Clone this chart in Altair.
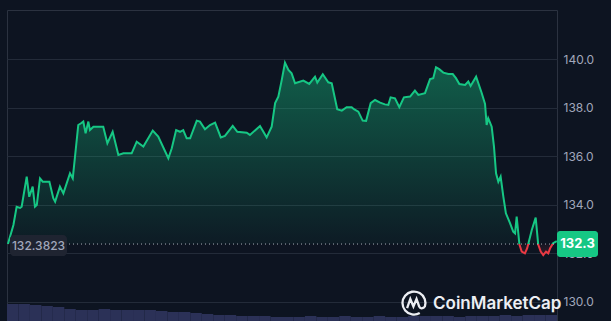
import altair as alt
import pandas as pd

# ---- price series (hours since open, price) ----
hours = [0.04, 0.28, 0.42, 0.57, 0.64, 0.86, 0.97, 1.12, 1.22, 1.30,
         1.44, 1.56, 1.85, 2.02, 2.10, 2.31, 2.46, 2.75, 2.87, 3.11,
         3.23, 3.33, 3.43, 3.55, 3.62, 3.77, 4.20, 4.38, 4.61, 4.86,
         5.08, 5.44, 5.66, 5.95, 6.36, 6.60, 7.04, 7.19, 7.38, 7.55,
         7.69, 7.84, 7.99, 8.28, 8.42, 8.64, 8.86, 9.08, 9.33, 9.51,
         9.85, 10.05, 10.46, 10.60, 11.04, 11.33, 11.55, 11.70, 11.84, 11.99,
         12.13, 12.28, 12.42, 12.57, 12.93, 13.19, 13.44, 13.54, 13.78, 14.02,
         14.17, 14.41, 14.61, 14.82, 15.04, 15.14, 15.33, 15.52, 15.67, 15.87,
         16.06, 16.28, 16.49, 16.64, 16.74, 16.93, 17.12, 17.32, 17.59, 17.80,
         17.95, 18.24, 18.46, 18.60, 18.72, 18.86, 19.04, 19.26, 19.45, 19.59,
         19.74, 19.99, 20.13, 20.23, 20.47, 20.71, 20.86, 20.93, 21.00, 21.15,
         21.25, 21.34, 21.44, 21.54, 21.66, 21.77, 21.95, 22.09, 22.17, 22.24,
         22.36, 22.46, 22.60, 22.70, 22.90, 23.07, 23.18, 23.29, 23.40, 23.52,
         23.62, 23.70, 23.83, 23.99]
prices = [132.38, 133.17, 133.92, 133.87, 133.92, 135.16, 134.33, 134.75, 133.92, 133.99,
          135.09, 134.95, 134.95, 134.27, 134.13, 134.75, 134.47, 135.30, 135.09, 137.29,
          137.36, 137.43, 136.95, 137.43, 137.08, 137.22, 137.22, 136.54, 137.01, 136.05,
          136.12, 136.12, 136.60, 136.40, 137.06, 136.81, 135.92, 136.33, 137.08, 137.01,
          137.08, 136.74, 136.74, 137.47, 137.43, 137.11, 137.29, 137.39, 136.78, 136.84,
          137.25, 137.01, 136.97, 136.88, 137.25, 136.78, 137.22, 138.19, 138.46, 139.15,
          139.86, 139.56, 139.42, 139.01, 139.12, 138.98, 139.28, 139.04, 139.38, 139.05,
          139.01, 137.94, 137.88, 138.02, 138.02, 137.94, 137.84, 137.47, 137.46, 138.19,
          138.32, 138.21, 138.14, 138.12, 138.43, 138.39, 138.02, 138.43, 138.46, 138.71,
          138.53, 138.60, 139.18, 139.22, 139.67, 139.59, 139.45, 139.39, 139.39, 139.22,
          138.98, 138.94, 139.08, 138.90, 139.28, 138.62, 138.16, 137.29, 137.57, 137.22,
          136.40, 135.30, 134.95, 135.16, 134.33, 133.65, 133.24, 132.89, 132.82, 133.51,
          132.36, 132.07, 132.00, 132.21, 132.96, 133.47, 132.36, 132.07, 131.93, 132.07,
          132.00, 132.21, 132.42, 132.50]

base_price = 132.3823
base_label = "132.3823"
last_label = "132.3"
y_ticks = [130, 132, 134, 136, 138, 140]

# ---- volume (half-hour buckets) ----
vol_start = [0.0, 0.5, 1.0, 1.5, 2.0, 2.5, 3.0, 3.5, 4.0, 4.5, 5.0, 5.5,
             6.0, 6.5, 7.0, 7.5, 8.0, 8.5, 9.0, 9.5, 10.0, 10.5, 11.0, 11.5,
             12.0, 12.5, 13.0, 13.5, 14.0, 14.5, 15.0, 15.5, 16.0, 16.5, 17.0, 17.5,
             18.0, 18.5, 19.0, 19.5, 20.0, 20.5, 21.0, 21.5, 22.0, 22.5, 23.0, 23.5]
volumes = [3.4, 3.4, 3.2, 3.0, 2.8, 2.4, 2.2, 2.2, 2.4, 2.2, 2.2, 2.2,
           2.2, 2.0, 1.8, 1.8, 1.6, 1.4, 1.2, 1.2, 1.0, 1.0, 1.0, 0.8,
           0.8, 0.8, 1.0, 0.8, 0.8, 1.0, 0.8, 0.8, 1.0, 0.8, 0.8, 1.0,
           1.0, 1.0, 1.0, 0.8, 1.0, 1.0, 1.0, 1.2, 1.0, 1.2, 1.2, 1.2]

GREEN = "#16c784"
RED = "#ea3943"
BG = "#0d1421"

df = pd.DataFrame({"t": hours, "p": prices})
vdf = pd.DataFrame({"t0": vol_start, "t1": [s + 0.5 for s in vol_start], "v": volumes})
one = pd.DataFrame({"a": [0]})

pmax, pmin = max(prices), min(prices)
off = (pmax - base_price) / (pmax - pmin)

xs = alt.Scale(domain=[0, 24], nice=False, zero=False)
ys = alt.Scale(domain=[129.21, 142.03], nice=False, zero=False)

X = alt.X("t:Q", scale=xs, axis=None)

line_grad = alt.Gradient(
    gradient="linear", x1=0, x2=0, y1=0, y2=1,
    stops=[alt.GradientStop(offset=0, color=GREEN),
           alt.GradientStop(offset=off, color=GREEN),
           alt.GradientStop(offset=off, color=RED),
           alt.GradientStop(offset=1, color=RED)])
fill_grad = alt.Gradient(
    gradient="linear", x1=0, x2=0, y1=0, y2=1,
    stops=[alt.GradientStop(offset=0, color="rgba(22,199,132,0.42)"),
           alt.GradientStop(offset=off, color="rgba(22,199,132,0.04)"),
           alt.GradientStop(offset=off, color="rgba(234,57,67,0.04)"),
           alt.GradientStop(offset=1, color="rgba(234,57,67,0.18)")])

area = alt.Chart(df).mark_area(fill=fill_grad, interpolate="linear").encode(
    x=X,
    y=alt.Y("p:Q", scale=ys, title=None,
            axis=alt.Axis(orient="right", values=y_ticks, format=".1f", grid=True,
                          gridColor="#232b39", gridWidth=1, domain=False, ticks=False,
                          labelColor="#a1a7bb", labelFontSize=12, labelFont="Inter",
                          labelPadding=6, zindex=0)),
    y2=alt.datum(base_price),
)

line = alt.Chart(df).mark_line(stroke=line_grad, strokeWidth=2, interpolate="linear").encode(
    x=X, y=alt.Y("p:Q", scale=ys))

base_rule = alt.Chart(one).mark_rule(strokeDash=[1, 3], color="#d0d4dc", opacity=0.8, strokeWidth=1).encode(
    x=alt.value(62), x2=alt.value(549), y=alt.datum(base_price))

left_box = alt.Chart(one).mark_rect(cornerRadius=4, color="#1f2431", yOffset=-9, y2Offset=12).encode(
    x=alt.value(3), x2=alt.value(60), y=alt.datum(base_price), y2=alt.datum(base_price))
left_txt = alt.Chart(one).mark_text(text=base_label, font="Inter", fontSize=12, fontWeight=500,
                                     color="#a1a7bb", align="center", baseline="middle", dy=1.5).encode(
    x=alt.value(31.5), y=alt.datum(base_price))

right_box = alt.Chart(one).mark_rect(cornerRadius=3, color=GREEN, yOffset=-13, y2Offset=13).encode(
    x=alt.value(550), x2=alt.value(591), y=alt.datum(base_price), y2=alt.datum(base_price))
right_txt = alt.Chart(one).mark_text(text=last_label, font="Inter", fontSize=13, fontWeight="bold",
                                      color="#ffffff", align="center", baseline="middle").encode(
    x=alt.value(570.5), y=alt.datum(base_price))

logo_path = ("M 0.5 0.87 A 1 1 0 1 1 0.94 0.34 "
             "M -0.6 0.45 L -0.32 -0.35 L -0.05 0.3 L 0.22 -0.35 L 0.45 0.3 Q 0.6 0.6 0.94 0.34")
logo_icon = alt.Chart(one).mark_point(shape=logo_path, size=529, filled=False, strokeWidth=2.3,
                                      color="#eceef3", opacity=1).encode(
    x=alt.value(407), y=alt.value(293))
logo_txt = alt.Chart(one).mark_text(text="CoinMarketCap", font="Inter", fontSize=17, fontWeight=600,
                                     color="#eceef3", align="left", baseline="middle").encode(
    x=alt.value(426), y=alt.value(294))

vol = alt.Chart(vdf).mark_bar(color="#2b3157").encode(
    x=alt.X("t0:Q", scale=xs, axis=None), x2="t1:Q",
    y=alt.Y("v:Q", scale=alt.Scale(domain=[0, 62.2]), axis=None),
    y2=alt.datum(0))

price_layers = alt.layer(area, line, base_rule, left_box, left_txt, right_box, right_txt,
                         logo_icon, logo_txt)

chart = alt.layer(vol, price_layers).resolve_scale(y="independent").properties(
    width=550, height=311,
    padding={"left": 7, "top": 10, "right": 54, "bottom": 0},
    autosize=alt.AutoSizeParams(type="none"),
    background=BG,
).configure_view(stroke="#2b3240", strokeWidth=1)

chart.save("out.html", embed_options={"renderer": "svg", "actions": False})
